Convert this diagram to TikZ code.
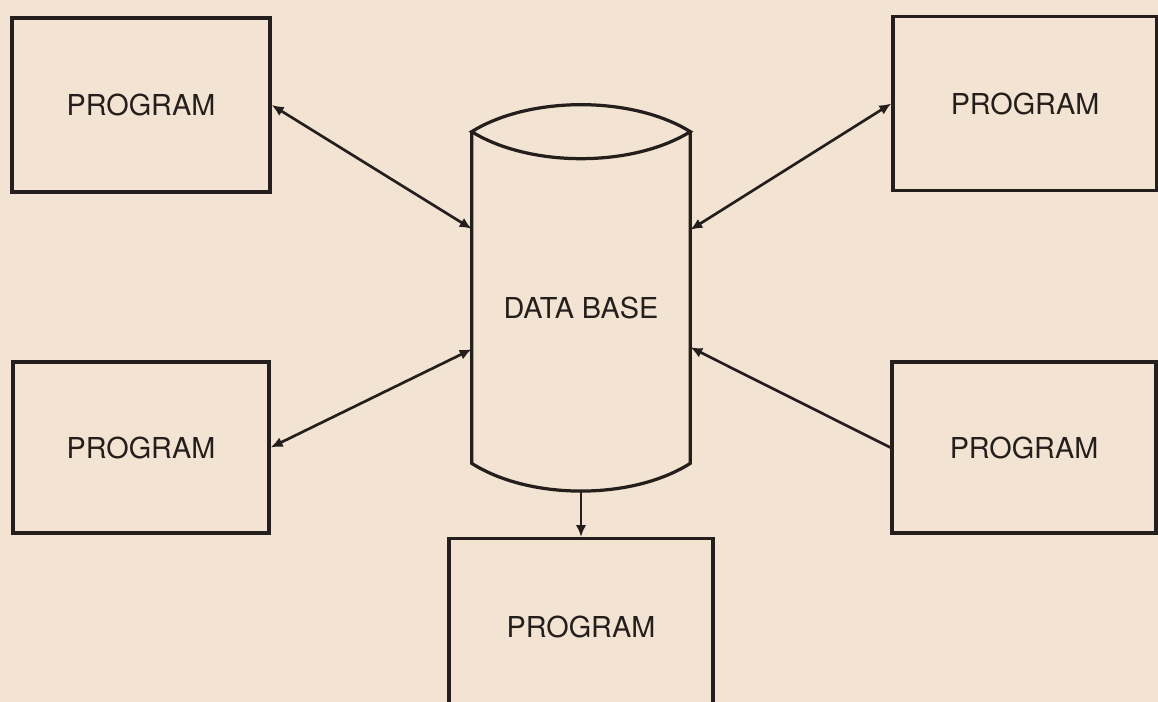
\documentclass[tikz,border=0pt]{standalone}
\usepackage{fontspec}
\setmainfont{TeX Gyre Heros}
\usepackage{tikz}
\usetikzlibrary{arrows.meta, positioning, calc}
\definecolor{paper}{RGB}{243,227,210}
\definecolor{ink}{RGB}{36,31,28}

\begin{document}
\begin{tikzpicture}[
    x=0.025cm, y=-0.025cm,
    prog/.style={draw=ink, line width=2.3pt, minimum width=6.45cm, minimum height=4.35cm, align=center, text=ink, font=\fontsize{20.5}{24}\selectfont},
    store/.style={minimum width=5.45cm, minimum height=8.275cm, inner sep=0pt},
    lbl/.style={text=ink, font=\fontsize{20.5}{24}\selectfont},
    outline/.style={draw=ink, line width=2.3pt, line join=miter},
    arr/.style={-{Latex[length=3mm, width=2.6mm]}, draw=ink, line width=1.9pt},
    darr/.style={{Latex[length=3mm, width=2.6mm]}-{Latex[length=3mm, width=2.6mm]}, draw=ink, line width=1.9pt}
]
\fill[paper] (0,0) rectangle (1158,702);
\useasboundingbox (0,0) rectangle (1158,702);
\node[prog] (tl) at (141,105) {PROGRAM};
\node[prog, minimum width=6.6cm] (tr) at (1025,103.5) {PROGRAM};
\node[prog, minimum width=6.4cm, minimum height=4.275cm] (bl) at (141,447.5) {PROGRAM};
\node[prog, minimum width=6.6cm, minimum height=4.275cm] (br) at (1024,447.5) {PROGRAM};
\node[prog, minimum width=6.6cm, minimum height=4.4cm, anchor=north] (bt) at (581,537) {PROGRAM};
\node[store] (db) at (581,297.5) {};
\node[lbl] (dbname) at ([yshift=-0.25cm]db.center) {DATA BASE};
\draw[outline] (db.north west) -- (db.south west) .. controls +(58,37) and +(-58,37) .. (db.south east) -- (db.north east);
\draw[outline] (db.north west) .. controls +(58,-36) and +(-58,-36) .. (db.north east) .. controls +(-58,36) and +(58,36) .. cycle;
\coordinate (dbbottom) at ([yshift=-0.675cm]db.south);
\foreach \p/\f in {tl/0.293, bl/0.656} \draw[darr] (\p.east) -- ($(db.north west)!\f!(db.south west)$);
\draw[darr] (tr.west) -- ($(db.north east)!0.296!(db.south east)$);
\draw[arr] (br.west) -- ($(db.north east)!0.65!(db.south east)$);
\draw[arr] (dbbottom) -- (bt.north);
\end{tikzpicture}
\end{document}
